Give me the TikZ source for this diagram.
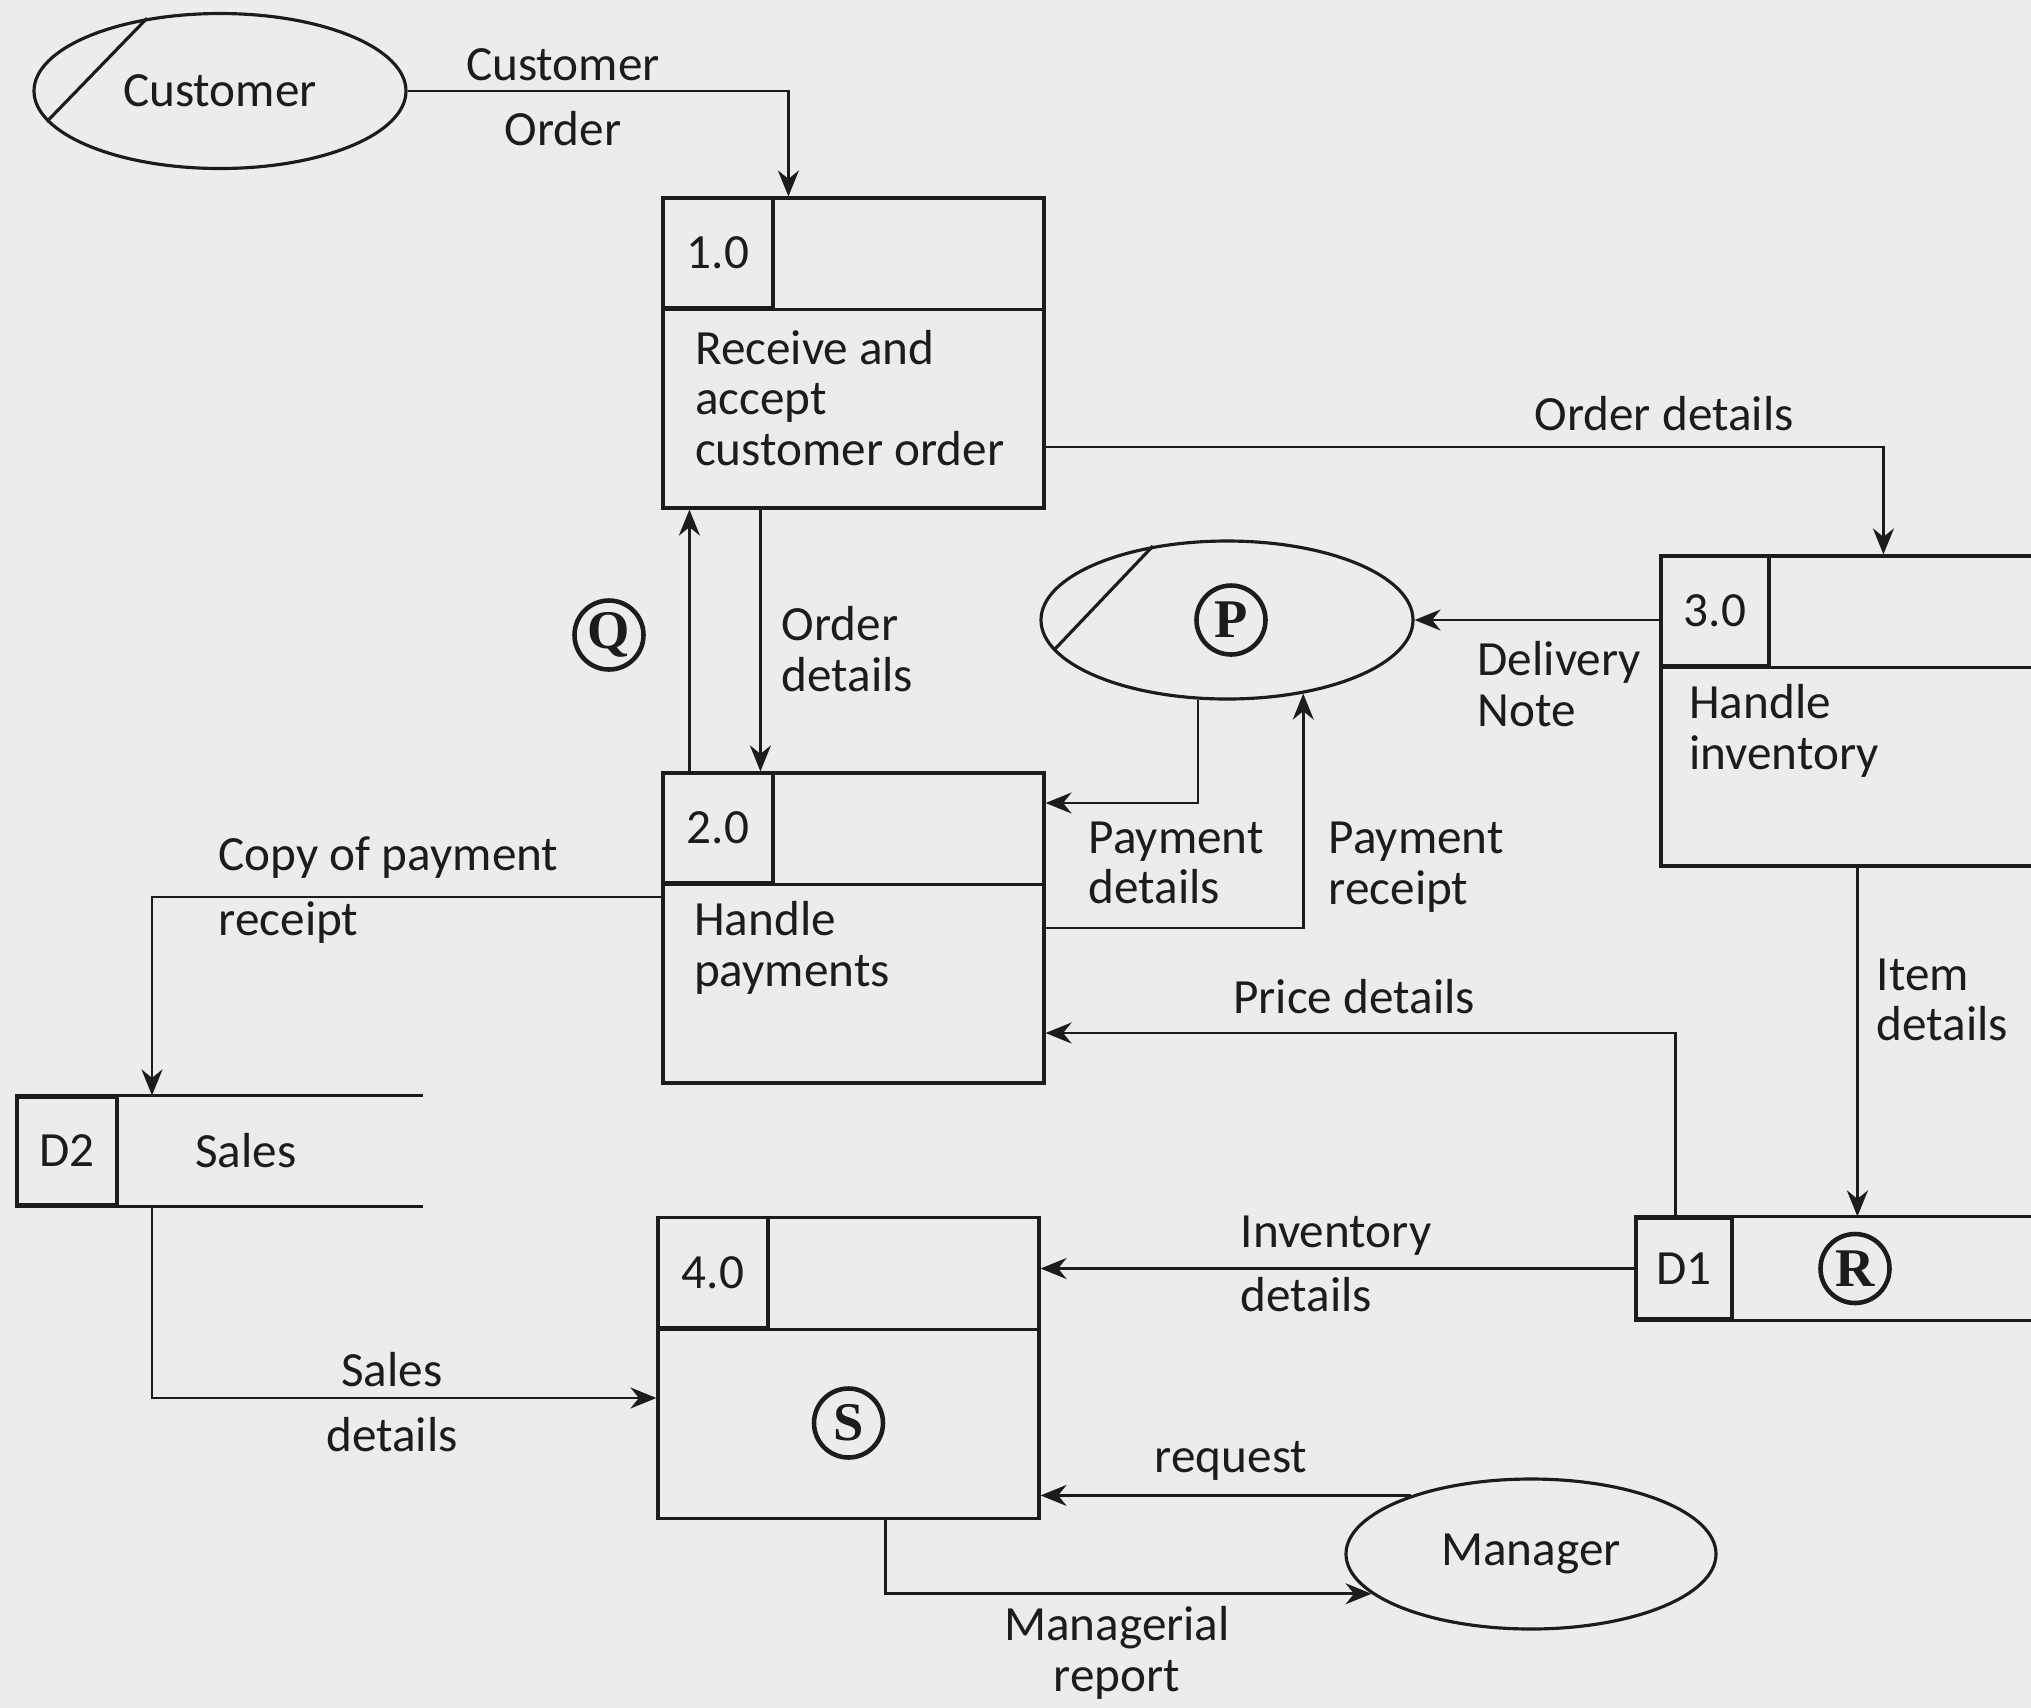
\documentclass[tikz,border=0pt]{standalone}
\usepackage{fontspec}
\setmainfont{Carlito}
\newfontfamily\circfont{Liberation Serif}
\usetikzlibrary{shapes.geometric,arrows.meta}
\definecolor{paper}{RGB}{236,236,234}
\definecolor{ink}{RGB}{28,28,28}
\newcommand{\dfdfont}{\fontsize{14}{14.4}\selectfont}
\newcommand{\letterfont}{\circfont\bfseries\fontsize{15.5}{15.5}\selectfont}
\tikzstyle{process} = [rectangle, draw=ink, line width=0.9pt, minimum width=3.81cm, minimum height=3.1cm]
\tikzstyle{pid} = [rectangle, draw=ink, line width=0.9pt, minimum width=1.1cm, minimum height=1.1cm, anchor=north west]
\tikzstyle{boxtext} = [anchor=west, align=left, inner sep=0pt]
\tikzstyle{storeid} = [rectangle, draw=ink, line width=0.9pt, minimum width=1cm, minimum height=1.05cm]
\tikzstyle{entity} = [ellipse, draw=ink, line width=0.9pt, minimum width=3.72cm, minimum height=1.55cm, inner sep=0pt]
\tikzstyle{circled} = [circle, draw=ink, line width=1.3pt, minimum size=0.69cm, inner sep=0pt, font=\letterfont]
\tikzstyle{arrow} = [draw=ink, line width=0.8pt, -{Stealth[length=2.6mm, width=2.1mm]}]
\tikzstyle{flow} = [anchor=west, align=left, inner sep=0pt]
\tikzstyle{flowc} = [align=center, inner sep=0pt]

\begin{document}
\begin{tikzpicture}[node distance=2cm, font=\dfdfont, text=ink]
    \useasboundingbox (0,0) rectangle (20.31,-17.08);
    \fill[paper] (0,0) rectangle (20.31,-17.08);
    \clip (0,0) rectangle (20.31,-17.08);

    % processes
    \node (p1) [process] at (8.535,-3.53) {};
    \node (p2) [process, below of = p1, yshift=-3.75cm] {};
    \node (p3) [process, right of = p1, xshift=7.98cm, yshift=-3.58cm] {};
    \node (p4) [process, below of = p2, yshift=-2.4cm, xshift=-0.05cm, minimum height=3.01cm] {};
    \node (p1id) [pid] at (p1.north west) {1.0};
    \node (p2id) [pid] at (p2.north west) {2.0};
    \node (p3id) [pid, minimum width=1.08cm] at (p3.north west) {3.0};
    \node (p4id) [pid] at (p4.north west) {4.0};
    \draw [ink, line width=0.9pt] (p1id.south west) -- (p1id.south west -| p1.east);
    \draw [ink, line width=0.9pt] (p2id.south west) -- (p2id.south west -| p2.east);
    \draw [ink, line width=0.9pt] (p3id.south west) -- (p3id.south west -| p3.east);
    \draw [ink, line width=0.9pt] (p4id.south west) -- (p4id.south west -| p4.east);
    \node (t1) [boxtext] at ([xshift=0.33cm, yshift=-0.45cm]p1.west) {Receive and\\accept\\customer order};
    \node (t2) [boxtext] at ([xshift=0.32cm, yshift=-0.20cm]p2.west) {Handle\\payments};
    \node (t3) [boxtext] at ([xshift=0.29cm, yshift=-0.20cm]p3.west) {Handle\\inventory};
    \node (s) [circled] at ([yshift=-0.55cm]p4.center) {S};

    % data stores
    \node (d2) [storeid, minimum height=1.08cm] at (0.67,-11.51) {D2};
    \draw [ink, line width=0.9pt] (d2.north west) -- ++(4.08,0);
    \draw [ink, line width=0.9pt] (d2.south west) -- ++(4.08,0);
    \node (d2t) at ([xshift=1.79cm]d2.center) {Sales};
    \node (d1) [storeid, minimum width=0.96cm, minimum height=1.01cm] at (16.84,-12.685) {D1};
    \draw [ink, line width=0.9pt] (d1.north west) -- ++(4.5,0);
    \draw [ink, line width=0.9pt] (d1.south west) -- ++(4.5,0);
    \node (r) [circled] at ([xshift=1.71cm]d1.center) {R};

    % entities
    \node (cust) [entity] at (2.20,-0.91) {Customer};
    \draw [ink, line width=0.9pt] (cust.135) -- (cust.190);
    \node (entP) [entity, minimum height=1.58cm] at (12.27,-6.20) {};
    \node (pc) [circled] at ([xshift=0.04cm]entP.center) {P};
    \draw [ink, line width=0.9pt] (entP.135) -- (entP.190);
    \node (mgr) [entity, minimum width=3.7cm, minimum height=1.5cm] at (15.31,-15.54) {Manager};
    \node (q) [circled] at (6.09,-6.35) {Q};

    % flows
    \coordinate (upq) at ([xshift=0.28cm]p2.north west);
    \coordinate (dnod) at ([xshift=0.99cm]p1.south west);
    \coordinate (itm) at ([xshift=1.98cm]p3.south west);
    \draw [arrow] (cust.east) -| ([xshift=1.27cm]p1.north west);
    \draw [arrow] ([yshift=-0.94cm]p1.east) -| ([xshift=2.24cm]p3.north west);
    \draw [arrow] (upq) -- (upq |- p1.south);
    \draw [arrow] (dnod) -- (dnod |- p2.north);
    \draw [arrow] (p3.west |- entP.east) -- (entP.east);
    \draw [arrow] (entP.250) |- ([yshift=1.25cm]p2.east);
    \draw [arrow] (p2.east) -| (entP.316);
    \draw [arrow] ([xshift=0.41cm]d1.north west) |- ([yshift=-1.05cm]p2.east);
    \draw [arrow] (itm) -- (itm |- d1.north);
    \draw [arrow] (d1.west) -- (d1.west -| p4.east);
    \draw [arrow] ([yshift=0.31cm]p2.west) -| ([xshift=0.85cm]d2.north);
    \draw [arrow] ([xshift=0.85cm]d2.south) |- ([yshift=-0.30cm]p4.west);
    \draw [arrow] (mgr.154) -- (mgr.154 -| p4.east);
    \draw [arrow] ([xshift=2.29cm]p4.south west) |- (mgr.194);

    % flow labels
    \node (l1) [flowc] at (5.63,-0.97) {Customer\\[4pt]Order};
    \node (l2) [flowc] at (16.64,-4.14) {Order details};
    \node (l3) [flow] at (7.81,-6.49) {Order\\details};
    \node (l4) [flow] at (14.77,-6.84) {Delivery\\Note};
    \node (l5) [flow] at (10.88,-8.63) {Payment\\details};
    \node (l6) [flow] at (13.28,-8.67) {Payment\\receipt};
    \node (l7) [flowc] at (13.54,-9.97) {Price details};
    \node (l8) [flow] at (18.76,-10.0) {Item\\details};
    \node (l9) [flow] at (2.18,-8.90) {Copy of payment\\[4pt]receipt};
    \node (l10) [flow] at (12.40,-12.64) {Inventory\\[4pt]details};
    \node (l11) [flowc] at (3.92,-14.02) {Sales\\[4pt]details};
    \node (l12) [flowc] at (12.31,-14.61) {request};
    \node (l13) [flowc] at (11.17,-16.53) {Managerial\\report};
\end{tikzpicture}
\end{document}
